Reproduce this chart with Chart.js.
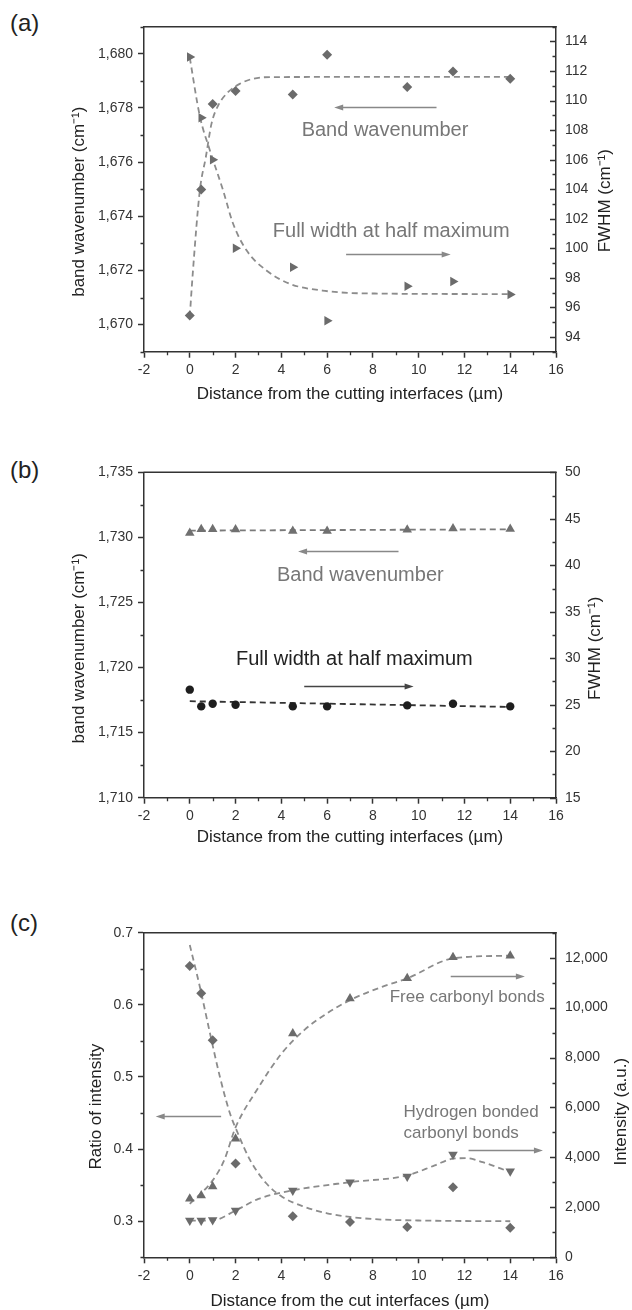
<!DOCTYPE html>
<html>
<head>
<meta charset="utf-8">
<script src="https://cdn.jsdelivr.net/npm/chart.js@4.4.1/dist/chart.umd.min.js"></script>
<style>
  html, body { margin: 0; padding: 0; background: #fff; overflow: hidden; }
  body { width: 632px; height: 1310px; position: relative; font-family: "Liberation Sans", Arial, sans-serif; }
  .panel { position: absolute; left: 0; }
  .tag { position: absolute; left: 10px; font-size: 24px; line-height: 28px; color: #222; }
</style>
</head>
<body>
<div class="tag" style="top:9px">(a)</div>
<div class="tag" style="top:456px">(b)</div>
<div class="tag" style="top:909px">(c)</div>
<canvas id="chartA" class="panel" style="top:0px" width="632" height="405"></canvas>
<canvas id="chartB" class="panel" style="top:440px" width="632" height="408"></canvas>
<canvas id="chartC" class="panel" style="top:880px" width="632" height="432"></canvas>
<script>
// ---- data ----
const xTicks = [-2, 0, 2, 4, 6, 8, 10, 12, 14, 16];

// (a)
const distA = [0, 0.5, 1, 2, 4.5, 6, 9.5, 11.5, 14];
const bandA = [1670.34, 1674.99, 1678.15, 1678.63, 1678.5, 1679.96, 1678.77, 1679.35, 1679.08];
const fwhmA = [112.95, 108.83, 105.99, 100.0, 98.72, 95.1, 97.43, 97.75, 96.87];
const bandFitXA = [0, 0.14, 0.44, 0.7, 0.95, 1.24, 1.67, 2.18, 2.77, 3.6, 14];
const bandFitA = [1670.3, 1672.0, 1674.96, 1676.18, 1677.42, 1678.09, 1678.58, 1678.89, 1679.08, 1679.14, 1679.15];
const fwhmFitXA = [0, 0.44, 0.87, 1.45, 1.89, 2.48, 3.35, 4.38, 5.79, 7.54, 14];
const fwhmFitA = [112.9, 108.94, 106.67, 103.95, 101.68, 99.86, 98.5, 97.59, 97.14, 96.95, 96.9];
const bandTicksA = [1670, 1672, 1674, 1676, 1678, 1680];
const fwhmTicksA = [94, 96, 98, 100, 102, 104, 106, 108, 110, 112, 114];

// (b)
const distB = [0, 0.5, 1, 2, 4.5, 6, 9.5, 11.5, 14];
const bandB = [1730.33, 1730.62, 1730.62, 1730.6, 1730.49, 1730.49, 1730.59, 1730.69, 1730.64];
const fwhmB = [26.62, 24.82, 25.11, 25.0, 24.82, 24.82, 24.93, 25.11, 24.82];
const bandFitXB = [0, 14];
const bandFitB = [1730.52, 1730.62];
const fwhmFitXB = [0, 14];
const fwhmFitB = [25.38, 24.76];
const bandTicksB = [1710, 1715, 1720, 1725, 1730, 1735];
const fwhmTicksB = [15, 20, 25, 30, 35, 40, 45, 50];

// (c)
const distC = [0, 0.5, 1, 2, 4.5, 7, 9.5, 11.5, 14];
const ratioC = [0.654, 0.616, 0.551, 0.38, 0.307, 0.299, 0.292, 0.347, 0.291];
const freeC = [2340, 2475, 2836, 4750, 8963, 10368, 11171, 12013, 12080];
const hbondC = [1472, 1472, 1498, 1873, 2676, 3010, 3237, 4120, 3451];
const ratioFitXC = [0, 0.44, 0.88, 1.31, 1.75, 2.1, 2.63, 3.33, 4.03, 5, 6, 7, 8, 10, 14];
const ratioFitC = [0.683, 0.625, 0.561, 0.501, 0.45, 0.422, 0.385, 0.353, 0.334, 0.32, 0.311, 0.306, 0.303, 0.301, 0.3];
const freeFitXC = [0, 1, 1.5, 2, 3, 4, 5, 6, 7, 8.4, 9.5, 11.5, 14];
const freeFitC = [2140, 3080, 3880, 5200, 6800, 8150, 9100, 9770, 10300, 10830, 11170, 11970, 12080];
const hbondFitXC = [0, 1, 2, 3, 4.5, 7, 9.5, 10.7, 11.5, 12.1, 12.8, 14];
const hbondFitC = [1470, 1480, 1870, 2340, 2680, 3010, 3280, 3680, 3950, 3970, 3810, 3410];
const ratioTicksC = [0.3, 0.4, 0.5, 0.6, 0.7];
const intensityTicksC = [0, 2000, 4000, 6000, 8000, 10000, 12000];

// ---- helpers ----
const FONT = '"Liberation Sans", Arial, sans-serif';
Chart.defaults.font.family = FONT;
Chart.defaults.color = '#333';

function pts(xs, ys) {
  return xs.map((x, i) => ({ x: x, y: ys[i] }));
}

function markers(label, xs, ys, axis, style, rot, r, color) {
  return {
    label, data: pts(xs, ys), yAxisID: axis, showLine: false, order: 1,
    pointStyle: style, pointRotation: rot, pointRadius: r,
    pointBackgroundColor: color, pointBorderColor: color, pointBorderWidth: 0
  };
}

function fitLine(label, xs, ys, axis, color) {
  return {
    label, data: pts(xs, ys), yAxisID: axis, showLine: true, order: 2,
    pointRadius: 0, borderColor: color, borderWidth: 1.8, borderDash: [6, 4],
    cubicInterpolationMode: 'monotone', fill: false
  };
}

const fmt = v => Number(v).toLocaleString('en-US', { maximumFractionDigits: 3 });

function buildScales(o) {
  const tickFont = { size: 14 };
  return {
    x: {
      type: 'linear', position: 'bottom', min: -2, max: 16, bounds: 'data',
      afterBuildTicks: s => { s.ticks = xTicks.map(v => ({ value: v })); },
      afterFit: s => { s.height = o.xHeight; },
      ticks: { autoSkip: false, maxRotation: 0, padding: 4, font: tickFont, color: '#333', callback: fmt },
      grid: { drawOnChartArea: false, drawTicks: true, tickLength: 6, tickColor: '#333', tickWidth: 1.5 },
      border: { color: '#333', width: 1.5 },
      title: { display: true, text: o.xTitle, font: { size: 17 }, color: '#222', padding: { top: 0, bottom: 0 } }
    },
    y: {
      type: 'linear', position: 'left', min: o.yMin, max: o.yMax, bounds: 'data',
      afterBuildTicks: s => { s.ticks = o.yTicks.map(v => ({ value: v })); },
      afterFit: s => { s.width = 144; },
      ticks: { autoSkip: false, padding: 5, font: tickFont, color: '#333', callback: fmt },
      grid: { drawOnChartArea: false, drawTicks: true, tickLength: 6, tickColor: '#333', tickWidth: 1.5 },
      border: { color: '#333', width: 1.5 }
    },
    y2: {
      type: 'linear', position: 'right', min: o.y2Min, max: o.y2Max, bounds: 'data',
      afterBuildTicks: s => { s.ticks = o.y2Ticks.map(v => ({ value: v })); },
      afterFit: s => { s.width = 76; },
      ticks: { autoSkip: false, padding: 9, font: tickFont, color: '#333', callback: fmt },
      grid: { drawOnChartArea: false, drawTicks: false },
      border: { color: '#333', width: 1.5 }
    }
  };
}

// frame, minor ticks, inward right ticks, rotated y titles, notes and arrows
const decor = {
  id: 'decor',
  afterDraw(chart, args, o) {
    const ctx = chart.ctx, a = chart.chartArea;
    const sx = chart.scales.x, sy = chart.scales.y, sy2 = chart.scales.y2;
    ctx.save();
    ctx.strokeStyle = '#333';
    ctx.lineWidth = 1.5;
    ctx.beginPath();
    ctx.moveTo(a.left - 0.75, a.top);
    ctx.lineTo(a.right + 0.75, a.top);
    ctx.stroke();

    const isMajor = (s, v) => s.ticks.some(t => Math.abs(t.value - v) < 1e-9);
    const minorVals = (s, step) => {
      const out = [];
      for (let n = Math.ceil(s.min / step - 1e-9); n * step <= s.max + 1e-9; n++) {
        const v = n * step;
        if (!isMajor(s, v)) out.push(v);
      }
      return out;
    };
    ctx.lineWidth = 1.3;
    ctx.beginPath();
    minorVals(sx, o.minor.x).forEach(v => {
      const p = Math.round(sx.getPixelForValue(v)) + 0.5;
      ctx.moveTo(p, a.bottom); ctx.lineTo(p, a.bottom + 3.5);
    });
    minorVals(sy, o.minor.y).forEach(v => {
      const p = Math.round(sy.getPixelForValue(v)) + 0.5;
      ctx.moveTo(a.left, p); ctx.lineTo(a.left - 3.5, p);
    });
    minorVals(sy2, o.minor.y2).forEach(v => {
      const p = Math.round(sy2.getPixelForValue(v)) + 0.5;
      ctx.moveTo(a.right, p); ctx.lineTo(a.right - 3.5, p);
    });
    ctx.stroke();
    ctx.lineWidth = 1.5;
    ctx.beginPath();
    sy2.ticks.forEach(t => {
      const p = Math.round(sy2.getPixelForValue(t.value)) + 0.5;
      ctx.moveTo(a.right, p); ctx.lineTo(a.right - 6, p);
    });
    ctx.stroke();

    // rotated axis titles (both read bottom to top)
    const midY = (a.top + a.bottom) / 2;
    ctx.fillStyle = '#222';
    ctx.font = '17px ' + FONT;
    ctx.textAlign = 'center';
    ctx.textBaseline = 'middle';
    o.yTitles.forEach(t => {
      const x = t.side === 'left' ? a.left - t.dx : a.right + t.dx;
      ctx.save();
      ctx.translate(x, midY + t.dy);
      ctx.rotate(-Math.PI / 2);
      ctx.fillText(t.text, 0, 0);
      ctx.restore();
    });

    // notes
    o.notes.forEach(n => {
      ctx.fillStyle = n.color;
      ctx.font = n.size + 'px ' + FONT;
      ctx.textAlign = n.align || 'center';
      ctx.fillText(n.text, sx.getPixelForValue(n.x), sy.getPixelForValue(n.y));
    });

    // arrows, head at x2
    o.arrows.forEach(r => {
      const x1 = sx.getPixelForValue(r.x1), x2 = sx.getPixelForValue(r.x2);
      const y = Math.round(sy.getPixelForValue(r.y)) + 0.5;
      const d = Math.sign(x2 - x1);
      ctx.strokeStyle = r.color;
      ctx.fillStyle = r.color;
      ctx.lineWidth = 1.3;
      ctx.beginPath();
      ctx.moveTo(x1, y); ctx.lineTo(x2 - d * 6, y);
      ctx.stroke();
      ctx.beginPath();
      ctx.moveTo(x2, y);
      ctx.lineTo(x2 - d * 9, y - 3);
      ctx.lineTo(x2 - d * 9, y + 3);
      ctx.closePath();
      ctx.fill();
    });
    ctx.restore();
  }
};

function makeChart(id, datasets, scaleOpts, top, decorOpts) {
  return new Chart(document.getElementById(id), {
    type: 'scatter',
    data: { datasets },
    options: {
      responsive: false,
      animation: false,
      events: [],
      locale: 'en-US',
      layout: { padding: { top: top, left: 0, right: 0, bottom: 0 } },
      scales: buildScales(scaleOpts),
      plugins: { legend: { display: false }, tooltip: { enabled: false }, decor: decorOpts }
    },
    plugins: [decor]
  });
}

// (a)
makeChart('chartA', [
  fitLine('Band fit', bandFitXA, bandFitA, 'y', '#8c8c8c'),
  fitLine('FWHM fit', fwhmFitXA, fwhmFitA, 'y2', '#8c8c8c'),
  markers('Band wavenumber', distA, bandA, 'y', 'rectRot', 0, 5, '#6b6b6b'),
  markers('FWHM', distA, fwhmA, 'y2', 'triangle', 90, 5.5, '#6b6b6b')
], {
  xTitle: 'Distance from the cutting interfaces (µm)', xHeight: 405 - 351.7,
  yMin: 1669, yMax: 1681, yTicks: bandTicksA,
  y2Min: 93, y2Max: 115, y2Ticks: fwhmTicksA
}, 26.7, {
  minor: { x: 1, y: 1, y2: 1 },
  yTitles: [
    { text: 'band wavenumber (cm⁻¹)', side: 'left', dx: 64.5, dy: 12.5 },
    { text: 'FWHM (cm⁻¹)', side: 'right', dx: 49.5, dy: 11.5 }
  ],
  notes: [
    { text: 'Band wavenumber', x: 8.53, y: 1677.17, size: 20, color: '#777' },
    { text: 'Full width at half maximum', x: 8.8, y: 1673.44, size: 20, color: '#777' }
  ],
  arrows: [
    { x1: 10.78, x2: 6.31, y: 1678.03, color: '#888' },
    { x1: 6.83, x2: 11.4, y: 1672.59, color: '#888' }
  ]
});

// (b)
makeChart('chartB', [
  fitLine('Band fit', bandFitXB, bandFitB, 'y', '#7a7a7a'),
  fitLine('FWHM fit', fwhmFitXB, fwhmFitB, 'y2', '#333'),
  markers('Band wavenumber', distB, bandB, 'y', 'triangle', 0, 5.5, '#707070'),
  markers('FWHM', distB, fwhmB, 'y2', 'circle', 0, 4.2, '#1e1e1e')
], {
  xTitle: 'Distance from the cutting interfaces (µm)', xHeight: 408 - 357.7,
  yMin: 1710, yMax: 1735, yTicks: bandTicksB,
  y2Min: 15, y2Max: 50, y2Ticks: fwhmTicksB
}, 32.3, {
  minor: { x: 1, y: 2.5, y2: 2.5 },
  yTitles: [
    { text: 'band wavenumber (cm⁻¹)', side: 'left', dx: 64.5, dy: 13.3 },
    { text: 'FWHM (cm⁻¹)', side: 'right', dx: 39.5, dy: 13.3 }
  ],
  notes: [
    { text: 'Band wavenumber', x: 7.45, y: 1727.1, size: 20, color: '#777' },
    { text: 'Full width at half maximum', x: 7.19, y: 1720.62, size: 20, color: '#222' }
  ],
  arrows: [
    { x1: 9.12, x2: 4.73, y: 1728.95, color: '#888' },
    { x1: 5.0, x2: 9.78, y: 1718.58, color: '#444' }
  ]
});

// (c)
makeChart('chartC', [
  fitLine('Ratio fit', ratioFitXC, ratioFitC, 'y', '#8c8c8c'),
  fitLine('Free fit', freeFitXC, freeFitC, 'y2', '#8c8c8c'),
  fitLine('H-bonded fit', hbondFitXC, hbondFitC, 'y2', '#8c8c8c'),
  markers('Ratio of intensity', distC, ratioC, 'y', 'rectRot', 0, 5, '#6b6b6b'),
  markers('Free carbonyl bonds', distC, freeC, 'y2', 'triangle', 0, 5.5, '#6b6b6b'),
  markers('Hydrogen bonded carbonyl bonds', distC, hbondC, 'y2', 'triangle', 180, 5.5, '#6b6b6b')
], {
  xTitle: 'Distance from the cut interfaces (µm)', xHeight: 432 - 377.3,
  yMin: 0.25, yMax: 0.7, yTicks: ratioTicksC,
  y2Min: 0, y2Max: 13000, y2Ticks: intensityTicksC
}, 52.7, {
  minor: { x: 1, y: 0.05, y2: 1000 },
  yTitles: [
    { text: 'Ratio of intensity', side: 'left', dx: 47.5, dy: 11.7 },
    { text: 'Intensity (a.u.)', side: 'right', dx: 65.5, dy: 16.7 }
  ],
  notes: [
    { text: 'Free carbonyl bonds', x: 12.12, y: 0.611, size: 17, color: '#777' },
    { text: 'Hydrogen bonded', x: 9.34, y: 0.4505, size: 17, color: '#777', align: 'left' },
    { text: 'carbonyl bonds', x: 9.34, y: 0.4214, size: 17, color: '#777', align: 'left' }
  ],
  arrows: [
    { x1: 11.4, x2: 14.64, y: 0.6405, color: '#888' },
    { x1: 12.18, x2: 15.43, y: 0.3983, color: '#888' },
    { x1: 1.37, x2: -1.49, y: 0.4453, color: '#888' }
  ]
});
</script>
</body>
</html>
